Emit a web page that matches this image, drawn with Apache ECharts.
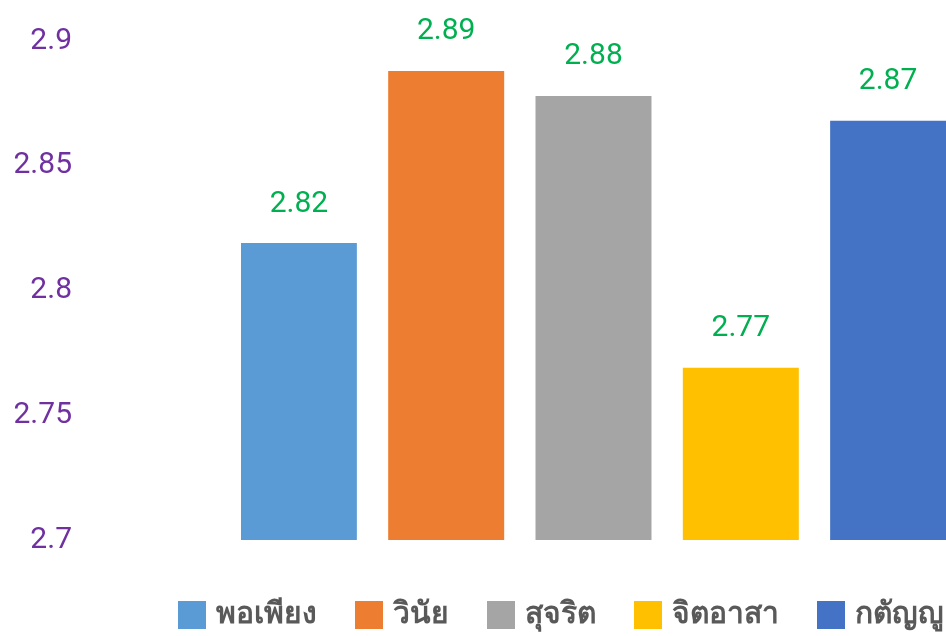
<!DOCTYPE html>
<html>
<head>
<meta charset="utf-8">
<script src="https://cdn.jsdelivr.net/npm/echarts@6/dist/echarts.min.js"></script>
<style>
  html, body { margin: 0; padding: 0; background: #fff; }
  #chart { width: 946px; height: 636px; }
</style>
</head>
<body>
<div id="chart"></div>
<script>
// ข้อมูลกราฟ
const seriesNames = ['พอเพียง', 'วินัย', 'สุจริต', 'จิตอาสา', 'กตัญญู']
const seriesValues = [2.819, 2.888, 2.878, 2.769, 2.868]
const seriesColors = ['#5B9BD5', '#ED7D31', '#A5A5A5', '#FFC000', '#4472C4']
const yTicks = [2.7, 2.75, 2.8, 2.85, 2.9]

const fontFamily = 'Roboto, "Noto Sans", "DejaVu Sans", sans-serif'

const chart = echarts.init(document.getElementById('chart'))

const option = {
    animation: false,
    grid: {
        left: 241,
        top: 41,
        width: 738,
        height: 499
    },
    legend: {
        top: 600,
        left: 178,
        padding: 0,
        itemWidth: 28,
        itemHeight: 28,
        itemGap: 38,
        icon: 'rect',
        textStyle: {
            color: '#595959',
            fontSize: 30,
            fontWeight: 'bold',
            fontFamily: fontFamily,
            padding: [0, 0, 0, 5]
        },
        data: seriesNames
    },
    xAxis: {
        type: 'category',
        data: [''],
        axisLine: { show: false },
        axisTick: { show: false },
        axisLabel: { show: false }
    },
    yAxis: {
        type: 'value',
        min: yTicks[0],
        max: yTicks[yTicks.length - 1],
        interval: 0.05,
        axisLine: { show: false },
        axisTick: { show: false },
        splitLine: { show: false },
        axisLabel: {
            color: '#7030A0',
            fontSize: 30,
            fontFamily: fontFamily,
            margin: 169,
            formatter: (v) => String(+v.toFixed(2))
        }
    },
    series: seriesNames.map((name, i) => ({
        name: name,
        type: 'bar',
        data: [seriesValues[i]],
        barWidth: 116,
        barGap: '27%',
        itemStyle: { color: seriesColors[i] },
        label: {
            show: true,
            position: 'top',
            distance: 24,
            color: '#00B050',
            fontSize: 30,
            fontFamily: fontFamily,
            formatter: (p) => p.value.toFixed(2)
        }
    }))
}

chart.setOption(option)
</script>
</body>
</html>
